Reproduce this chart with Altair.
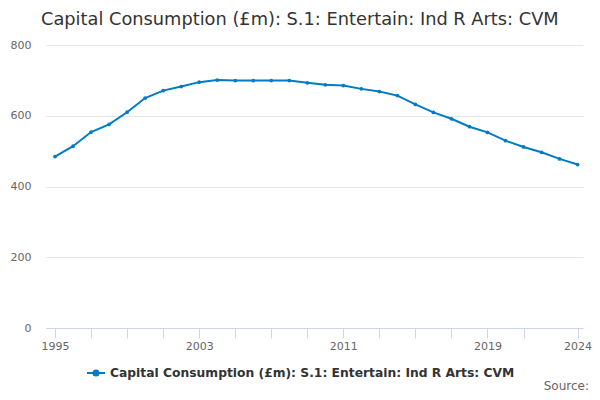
import altair as alt
import pandas as pd

years = list(range(1995, 2025))
values = [484.5, 514, 554, 575.6, 610, 650, 671, 682.6, 695, 701,
          699.5, 699.5, 699.5, 699.5, 693, 687.3, 685.4, 676, 668.5, 657,
          632, 609.4, 591.5, 569, 553, 529.6, 511.7, 496.7, 478, 462]
series_name = "Capital Consumption (£m): S.1: Entertain: Ind R Arts: CVM"
x_tick_values = [1995, 1997, 1999, 2001, 2003, 2005, 2007, 2009, 2011, 2013,
                 2015, 2017, 2019, 2021, 2024]
x_label_values = [1995, 2003, 2011, 2019, 2024]
y_tick_values = [0, 200, 400, 600, 800]

df = pd.DataFrame({"year": years, "value": values, "series": [series_name] * len(years)})

BLUE = "#007bc4"
FONT = "DejaVu Sans"
label_expr = "indexof([" + ",".join(str(v) for v in x_label_values) + "], datum.value) >= 0 ? datum.label : ''"

x_enc = alt.X("year:Q", scale=alt.Scale(domain=[1994.5, 2024.3], nice=False, zero=False),
              axis=alt.Axis(values=x_tick_values, format="d", labelExpr=label_expr, title=None,
                            grid=False, domainColor="#ccd6eb", tickColor="#ccd6eb", tickSize=10,
                            labelColor="#666666", labelFontSize=11, labelFont=FONT,
                            labelPadding=2, labelFlush=False, labelOverlap=False))
y_enc = alt.Y("value:Q", scale=alt.Scale(domain=[0, 800], nice=False),
              axis=alt.Axis(values=y_tick_values, title=None, domain=False, ticks=False,
                            gridColor="#e6e6e6", labelColor="#666666", labelFontSize=11,
                            labelFont=FONT, labelPadding=15))

symbol_path = ("M-1,0L1,0M-0.28,0A0.28,0.28,0,1,1,0.28,0"
               "A0.28,0.28,0,1,1,-0.28,0Z")

line = alt.Chart(df).mark_line(strokeWidth=2, color=BLUE).encode(
    x=x_enc, y=y_enc,
    color=alt.Color("series:N", scale=alt.Scale(range=[BLUE]),
                    legend=alt.Legend(title=None, orient="none", legendX=40, legendY=318,
                                      symbolType=symbol_path, symbolSize=324,
                                      symbolStrokeWidth=2, symbolFillColor=BLUE,
                                      symbolStrokeColor=BLUE,
                                      labelFont=FONT, labelFontSize=12.3, labelFontWeight="bold",
                                      labelColor="#333333", labelLimit=600))
)
points = alt.Chart(df).mark_point(filled=True, size=14, color=BLUE, opacity=1).encode(x=x_enc, y=y_enc)

source = alt.Chart(pd.DataFrame({"t": ["Source:"]})).mark_text(
    align="right", baseline="middle", font=FONT, fontSize=12, color="#666666"
).encode(x=alt.value(543), y=alt.value(341), text="t:N")

chart = alt.layer(line, points, source).properties(
    width=537, height=283,
    title=alt.TitleParams(series_name, anchor="start", frame="group", font=FONT, fontSize=17.8,
                          fontWeight="normal", color="#333333", offset=10, dx=-5),
    autosize=alt.AutoSizeParams(type="none"),
    padding={"left": 38, "top": 37, "right": 9, "bottom": 64},
).configure_view(stroke=None)

chart.save("out.html", embed_options={"renderer": "svg", "actions": False})
